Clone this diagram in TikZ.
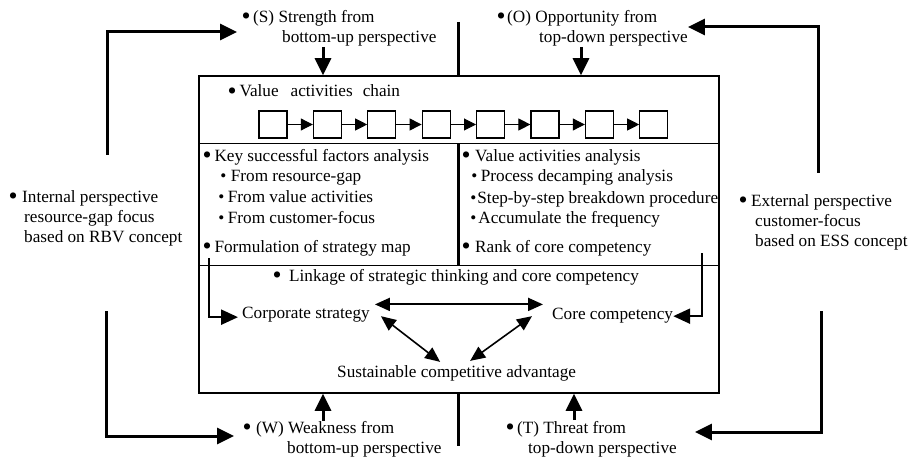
\documentclass[tikz,border=0pt]{standalone}
\usepackage{fontspec}
\setmainfont{Liberation Serif}
\usepackage{graphicx}
\usetikzlibrary{arrows.meta,calc}

\newcommand{\bul}{\makebox[6pt]{\raisebox{-2.5pt}{\scalebox{1.5}{\textbullet}}}}
\newcommand{\subbul}{\makebox[4.2pt]{\raisebox{-0.5pt}{\textbullet}}}

\tikzset{
  lbl/.style={align=left, inner sep=0pt, anchor=west, font=\fontsize{17.2}{20}\selectfont},
  txt/.style={inner sep=0pt, anchor=base west, font=\fontsize{17.2}{20}\selectfont},
  sepline/.style={line width=3pt},
  bigarr/.style={line width=3pt, -{Triangle[length=17pt,width=16pt]}},
  midarr/.style={line width=2.4pt, -{Triangle[length=17pt,width=15pt]}},
  dblarr/.style={line width=2pt, {Triangle[length=15pt,width=13pt]}-{Triangle[length=15pt,width=13pt]}},
  diagarr/.style={line width=1.6pt, {Triangle[length=15pt,width=13pt]}-{Triangle[length=15pt,width=13pt]}},
  chainarr/.style={line width=1pt, -{Triangle[length=12pt,width=12pt]}},
  actbox/.style={draw, line width=1.2pt, minimum width=28pt, minimum height=27pt, inner sep=0pt},
}

\begin{document}
\begin{tikzpicture}[x=1pt,y=-1pt]
\useasboundingbox (0,0) rectangle (917,457);

% main frame
\node[draw, line width=1.5pt, minimum width=520pt, minimum height=317pt, inner sep=0pt] (main) at (459,234.5) {};
\coordinate (d1) at (199,144);
\coordinate (d2) at (199,265);
\draw[line width=1pt] (main.west |- d1) -- (main.east |- d1);
\draw[line width=1pt] (main.west |- d2) -- (main.east |- d2);
\coordinate (mid) at (458,22);
\coordinate (midb) at (458,446);
\draw[sepline] (mid) -- (mid |- main.north);
\draw[sepline] (mid |- d1) -- (mid |- d2);
\draw[sepline] (mid |- main.south) -- (midb);

% value activities chain
\node[txt] (vac) at (229,97) {\bul\ Value\hspace{12pt}activities\hspace{10pt}chain};
\foreach \i in {1,...,8}
  \node[actbox] (a\i) at ({273+54.4*(\i-1)},124.5) {};
\foreach \i [count=\j from 2] in {1,...,7}
  \draw[chainarr] (a\i) -- (a\j);

% left panel
\node[txt] (ksf) at (204,161) {\bul\ Key successful factors analysis};
\node[txt] (fr1) at (221,182) {\raisebox{1pt}{\subbul}\hspace{5.5pt}From resource-gap};
\node[txt] (fr2) at (219,202) {\subbul\hspace{4.5pt}From value activities};
\node[txt] (fr3) at (219,223) {\subbul\hspace{4.5pt}From customer-focus};
\node[txt] (fsm) at (204,252) {\bul\ Formulation of strategy map};

% right panel
\node[txt] (vaa) at (463,161) {\bul\hspace{6pt}Value activities analysis};
\node[txt] (pda) at (472,182) {\raisebox{1pt}{\subbul}\hspace{4.5pt}Process decamping analysis};
\node[txt] (sbs) at (471,203) {\subbul\hspace{2pt}Step-by-step breakdown procedure};
\node[txt] (acc) at (471,223) {\subbul\hspace{3pt}Accumulate the frequency};
\node[txt] (rcc) at (463,252) {\bul\hspace{6pt}Rank of core competency};

% linkage section
\node[txt] (lnk) at (274,281) {\bul\hspace{9pt}Linkage of strategic thinking and core competency};
\node[txt] (cs) at (242,318) {Corporate strategy};
\node[txt] (cc) at (552,319) {Core competency};
\node[txt] (sca) at (337,377) {Sustainable competitive advantage};

\coordinate (ea) at (209,258);
\coordinate (eb) at (702,253);
\draw[midarr] (ea) |- ($(cs.west)+(-4,3)$);
\draw[midarr] (eb) |- ($(cc.east)+(0,1)$);
\draw[dblarr] ($(cs.north east)+(5,-2)$) -- ($(cs.north east -| cc.west)+(-9,-2)$);
\draw[diagarr] ($(cs.east)+(11,2)$) -- ($(sca.north)+(-16.5,-3)$);
\draw[diagarr] ($(sca.north)+(13.5,-4)$) -- ($(cc.west)+(-20,1)$);

% SWOT labels
\node[lbl] (S) at (243,28) {\bul\hspace{4pt}(S) Strength from\\\hspace*{39pt}bottom-up perspective};
\node[lbl] (O) at (498,28) {\bul\hspace{3pt}(O) Opportunity from\\\hspace*{41pt}top-down perspective};
\node[lbl] (W) at (244,439) {\bul\hspace{6pt}(W) Weakness from\\\hspace*{43pt}bottom-up perspective};
\node[lbl] (T) at (507,439) {\bul\hspace{4pt}(T) Threat from\\\hspace*{21pt}top-down perspective};
\node[lbl] (int) at (10,218) {\bul\hspace{6pt}Internal perspective\\\hspace*{14pt}resource-gap focus\\\hspace*{14pt}based on RBV concept};
\node[lbl] (ext) at (740,222) {\bul\hspace{5pt}External perspective\\\hspace*{15pt}customer-focus\\\hspace*{15pt}based on ESS concept};

\coordinate (sd) at (323,47);
\coordinate (od) at (581,47);
\coordinate (wu) at (323,421);
\coordinate (tu) at (574,420);
\draw[bigarr] (sd) -- (sd |- main.north);
\draw[bigarr] (od) -- (od |- main.north);
\draw[bigarr] (wu) -- (wu |- main.south);
\draw[bigarr] (tu) -- (tu |- main.south);

% perspective loops
\coordinate (lt) at (107,155);
\coordinate (lb) at (106,311);
\coordinate (rt) at (818,173);
\coordinate (rb) at (821,311);
\draw[bigarr, shorten >=6pt] (lt) |- ($(S.west)+(0,4)$);
\draw[bigarr, shorten >=10pt] (lb) |- ($(W.west)+(0,-3)$);
\draw[bigarr] (rt) |- ($(O.east)+(0,-1)$);
\draw[bigarr, shorten >=18pt] (rb) |- ($(T.east)+(0,-7)$);
\end{tikzpicture}
\end{document}
